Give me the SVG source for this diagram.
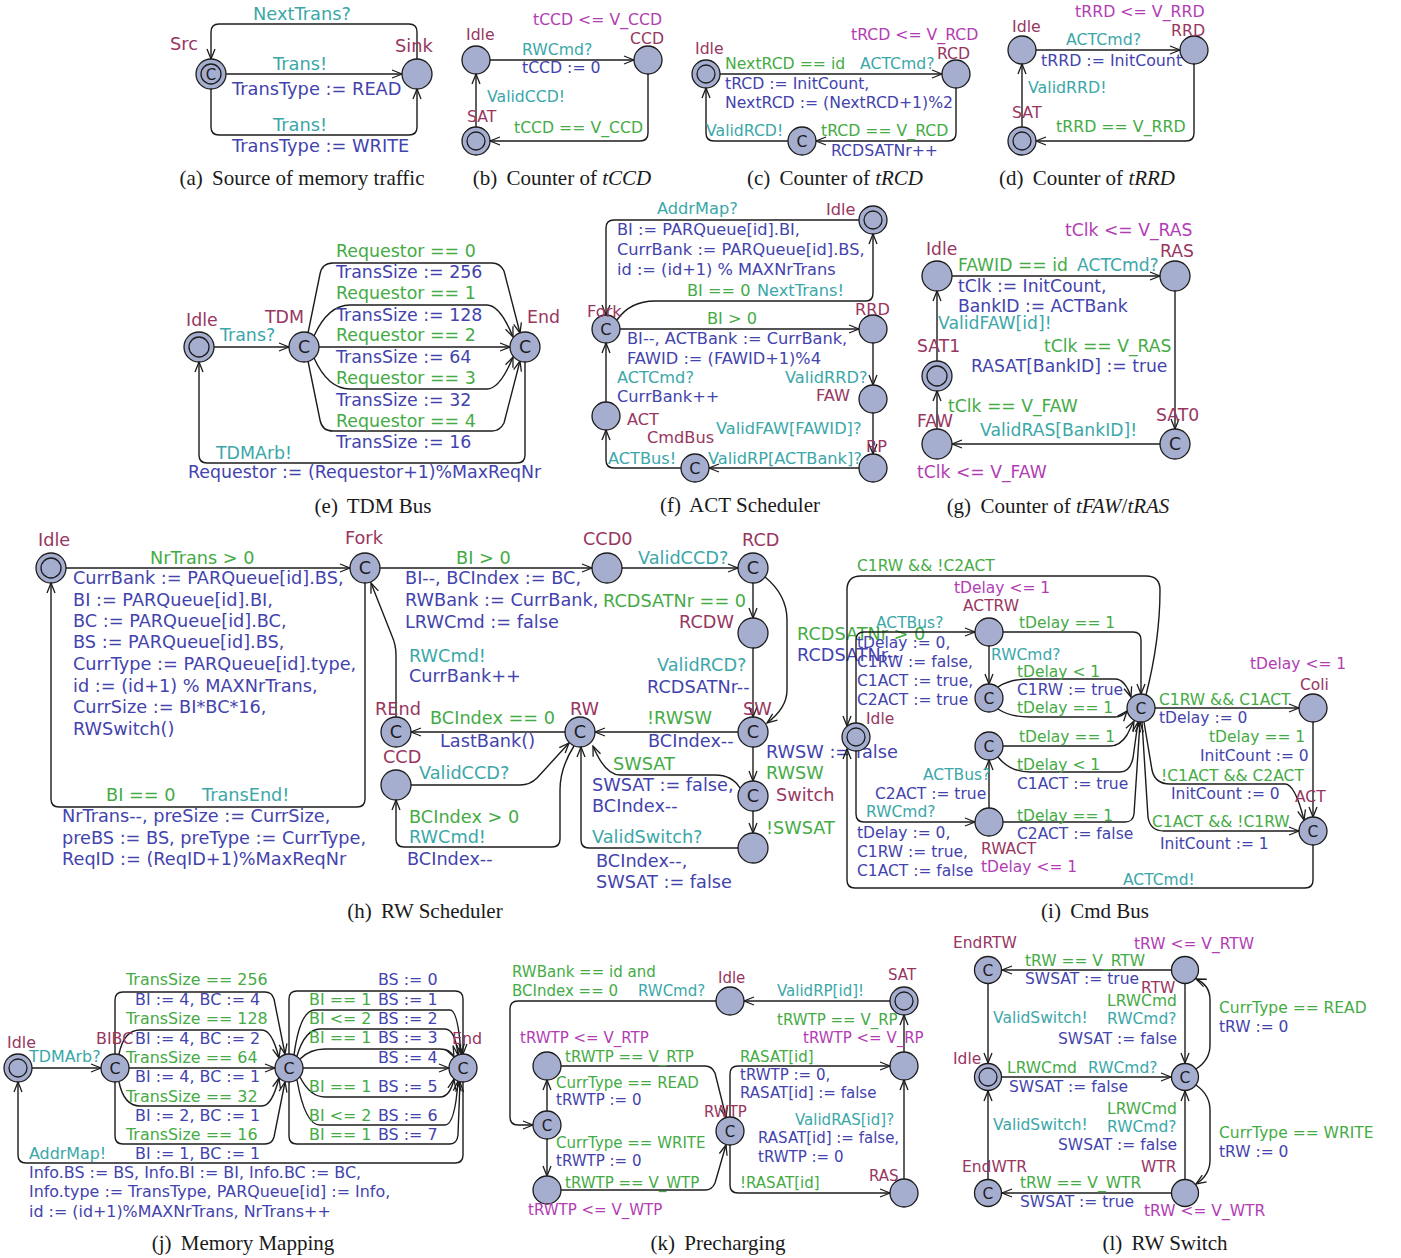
<svg xmlns="http://www.w3.org/2000/svg" width="1401" height="1258" viewBox="0 0 1401 1258">
<defs>
<style>
text{font-family:"DejaVu Sans","Liberation Sans",sans-serif}
.n{fill:#a6aed0;stroke:#1c1c1c;stroke-width:1.3}
.ri{fill:none;stroke:#1c1c1c;stroke-width:1.3}
.e{fill:none;stroke:#1c1c1c;stroke-width:1.4;marker-end:url(#ah)}
.nm{fill:#98365f}
.g{fill:#45ab45}
.s{fill:#3ba7a9}
.u{fill:#4343ad}
.iv{fill:#b23db3}
.c{fill:#1c1c1c;text-anchor:middle}
.cap{font-family:"Liberation Serif","Times New Roman",serif;font-size:21px;fill:#1a1a1a;text-anchor:middle}
</style>
<marker id="ah" markerWidth="12" markerHeight="10" refX="11" refY="5" orient="auto" markerUnits="userSpaceOnUse"><path d="M1,1 L11,5 L1,9" fill="none" stroke="#1c1c1c" stroke-width="1.3"/></marker>
</defs>
<rect width="1401" height="1258" fill="#fff"/>

<!-- (a) -->
<g id="panel-a" font-size="17.8">
<g id="a-edges">
<path class="e" d="M226,74 L402,74"/>
<path class="e" d="M417,59 L417,32 Q417,24 409,24 L219,24 Q211,24 211,32 L211,59"/>
<path class="e" d="M211,89 L211,127 Q211,135 219,135 L409,135 Q417,135 417,127 L417,89"/>
<text class="s" x="253" y="20">NextTrans?</text>
<text class="s" x="273" y="70">Trans!</text>
<text class="u" x="232" y="95">TransType := READ</text>
<text class="s" x="273" y="131">Trans!</text>
<text class="u" x="232" y="152">TransType := WRITE</text>
</g>
<g id="a-src"><circle class="n" cx="211" cy="74" r="15"/><circle class="ri" cx="211" cy="74" r="10"/><text class="c" x="211" y="79.5" font-size="15">C</text><text class="nm" x="170" y="50">Src</text></g>
<g id="a-sink"><circle class="n" cx="417" cy="74" r="15"/><text class="nm" x="395" y="52">Sink</text></g>
<text class="cap" x="302" y="185">(a)<tspan dx="4"> Source of memory traffic</tspan></text>
</g>

<!-- (b) -->
<g id="panel-b" font-size="15.7">
<g id="b-edges">
<path class="e" d="M490,60 L634,60"/>
<path class="e" d="M648,74 L648,133 Q648,141 640,141 L490,141"/>
<path class="e" d="M476,127 L476,74"/>
<text class="s" x="522" y="55">RWCmd?</text>
<text class="u" x="522" y="73">tCCD := 0</text>
<text class="g" x="514" y="133">tCCD == V_CCD</text>
<text class="s" x="487" y="102">ValidCCD!</text>
</g>
<g id="b-idle"><circle class="n" cx="476" cy="60" r="14"/><text class="nm" x="466" y="40">Idle</text></g>
<g id="b-ccd"><circle class="n" cx="648" cy="60" r="14"/><text class="nm" x="630" y="44">CCD</text><text class="iv" x="533" y="25">tCCD &lt;= V_CCD</text></g>
<g id="b-sat"><circle class="n" cx="476" cy="141" r="14"/><circle class="ri" cx="476" cy="141" r="9"/><text class="nm" x="467" y="122">SAT</text></g>
<text class="cap" x="562" y="185">(b)<tspan dx="4"> Counter of <tspan font-style="italic">tCCD</tspan></tspan></text>
</g>

<!-- (c) -->
<g id="panel-c" font-size="15.7">
<g id="c-edges">
<path class="e" d="M720,74 L942,74"/>
<path class="e" d="M956,88 L956,133 Q956,141 948,141 L816,141"/>
<path class="e" d="M788,141 L714,141 Q706,141 706,133 L706,88"/>
<text class="g" x="725" y="69">NextRCD == id</text>
<text class="s" x="860" y="69">ACTCmd?</text>
<text class="u" x="725" y="89">tRCD := InitCount,</text>
<text class="u" x="725" y="108">NextRCD := (NextRCD+1)%2</text>
<text class="g" x="821" y="136">tRCD == V_RCD</text>
<text class="u" x="831" y="156">RCDSATNr++</text>
<text class="s" x="706" y="136">ValidRCD!</text>
</g>
<g id="c-idle"><circle class="n" cx="706" cy="74" r="14"/><circle class="ri" cx="706" cy="74" r="9"/><text class="nm" x="695" y="54">Idle</text></g>
<g id="c-rcd"><circle class="n" cx="956" cy="74" r="14"/><text class="nm" x="937" y="59">RCD</text><text class="iv" x="851" y="40">tRCD &lt;= V_RCD</text></g>
<g id="c-sat"><circle class="n" cx="802" cy="141" r="14"/><text class="c" x="802" y="146.5">C</text></g>
<text class="cap" x="835" y="185">(c)<tspan dx="4"> Counter of <tspan font-style="italic">tRCD</tspan></tspan></text>
</g>

<!-- (d) -->
<g id="panel-d" font-size="15.8">
<g id="d-edges">
<path class="e" d="M1036,50 L1180,50"/>
<path class="e" d="M1194,64 L1194,133 Q1194,141 1186,141 L1036,141"/>
<path class="e" d="M1022,127 L1022,64"/>
<text class="s" x="1066" y="45">ACTCmd?</text>
<text class="u" x="1041" y="66">tRRD := InitCount</text>
<text class="g" x="1056" y="132">tRRD == V_RRD</text>
<text class="s" x="1028" y="93">ValidRRD!</text>
</g>
<g id="d-idle"><circle class="n" cx="1022" cy="50" r="14"/><text class="nm" x="1012" y="32">Idle</text></g>
<g id="d-rrd"><circle class="n" cx="1194" cy="50" r="14"/><text class="nm" x="1171" y="36">RRD</text><text class="iv" x="1075" y="17">tRRD &lt;= V_RRD</text></g>
<g id="d-sat"><circle class="n" cx="1022" cy="141" r="14"/><circle class="ri" cx="1022" cy="141" r="9"/><text class="nm" x="1012" y="118">SAT</text></g>
<text class="cap" x="1087" y="185">(d)<tspan dx="4"> Counter of <tspan font-style="italic">tRRD</tspan></tspan></text>
</g>

<!-- (e) -->
<g id="panel-e" font-size="17.4">
<g id="e-edges">
<path class="e" d="M214,347 L289,347"/>
<path class="e" d="M319,347 L510,347"/>
<path class="e" d="M308,333 L320,274 Q322,263 333,263 L492,263 Q500,263 504,271 L520,333"/>
<path class="e" d="M314,336 Q328,305 350,305 L487,305 Q500,305 513,337"/>
<path class="e" d="M314,358 Q328,389 350,389 L487,389 Q500,389 513,357"/>
<path class="e" d="M308,361 L320,420 Q322,431 333,431 L492,431 Q500,431 504,423 L520,361"/>
<path class="e" d="M525,362 L525,455 Q525,463 517,463 L207,463 Q199,463 199,455 L199,362"/>
<text class="s" x="220" y="341">Trans?</text>
<text class="g" x="336" y="257">Requestor == 0</text>
<text class="u" x="336" y="278">TransSize := 256</text>
<text class="g" x="336" y="299">Requestor == 1</text>
<text class="u" x="336" y="321">TransSize := 128</text>
<text class="g" x="336" y="341">Requestor == 2</text>
<text class="u" x="336" y="363">TransSize := 64</text>
<text class="g" x="336" y="384">Requestor == 3</text>
<text class="u" x="336" y="406">TransSize := 32</text>
<text class="g" x="336" y="427">Requestor == 4</text>
<text class="u" x="336" y="448">TransSize := 16</text>
<text class="s" x="216" y="459">TDMArb!</text>
<text class="u" x="188" y="478">Requestor := (Requestor+1)%MaxReqNr</text>
</g>
<g id="e-idle"><circle class="n" cx="199" cy="347" r="15"/><circle class="ri" cx="199" cy="347" r="10"/><text class="nm" x="186" y="326">Idle</text></g>
<g id="e-tdm"><circle class="n" cx="304" cy="347" r="15"/><text class="c" x="304" y="353">C</text><text class="nm" x="265" y="323">TDM</text></g>
<g id="e-end"><circle class="n" cx="525" cy="347" r="15"/><text class="c" x="525" y="353">C</text><text class="nm" x="527" y="323">End</text></g>
<text class="cap" x="373" y="513">(e)<tspan dx="4"> TDM Bus</tspan></text>
</g>

<!-- (f) -->
<g id="panel-f" font-size="16.2">
<g id="f-edges">
<path class="e" d="M859,220 L614,220 Q606,220 606,228 L606,315"/>
<path class="e" d="M617,320 Q630,301 655,301 L866,301 Q873,301 873,293 L873,234"/>
<path class="e" d="M620,329 L859,329"/>
<path class="e" d="M873,343 L873,385"/>
<path class="e" d="M873,413 L873,454"/>
<path class="e" d="M859,468 L709,468"/>
<path class="e" d="M681,468 L614,468 Q606,468 606,460 L606,430"/>
<path class="e" d="M606,402 L606,343"/>
<text class="s" x="657" y="214">AddrMap?</text>
<text class="u" x="617" y="235">BI := PARQueue[id].BI,</text>
<text class="u" x="617" y="255">CurrBank := PARQueue[id].BS,</text>
<text class="u" x="617" y="275">id := (id+1) % MAXNrTrans</text>
<text class="g" x="687" y="296">BI == 0</text>
<text class="s" x="757" y="296">NextTrans!</text>
<text class="g" x="707" y="324">BI &gt; 0</text>
<text class="u" x="627" y="344">BI--, ACTBank := CurrBank,</text>
<text class="u" x="627" y="364">FAWID := (FAWID+1)%4</text>
<text class="s" x="785" y="383">ValidRRD?</text>
<text class="s" x="716" y="434">ValidFAW[FAWID]?</text>
<text class="s" x="708" y="464">ValidRP[ACTBank]?</text>
<text class="s" x="608" y="464">ACTBus!</text>
<text class="s" x="617" y="383">ACTCmd?</text>
<text class="u" x="617" y="402">CurrBank++</text>
</g>
<g id="f-idle"><circle class="n" cx="873" cy="220" r="14"/><circle class="ri" cx="873" cy="220" r="9"/><text class="nm" x="826" y="215">Idle</text></g>
<g id="f-fork"><circle class="n" cx="606" cy="329" r="14"/><text class="c" x="606" y="335">C</text><text class="nm" x="587" y="317">Fork</text></g>
<g id="f-rrd"><circle class="n" cx="873" cy="329" r="14"/><text class="nm" x="855" y="315">RRD</text></g>
<g id="f-faw"><circle class="n" cx="873" cy="399" r="14"/><text class="nm" x="816" y="401">FAW</text></g>
<g id="f-rp"><circle class="n" cx="873" cy="468" r="14"/><text class="nm" x="866" y="452">RP</text></g>
<g id="f-cmdbus"><circle class="n" cx="695" cy="468" r="14"/><text class="c" x="695" y="474">C</text><text class="nm" x="647" y="443">CmdBus</text></g>
<g id="f-act"><circle class="n" cx="606" cy="416" r="14"/><text class="nm" x="627" y="425">ACT</text></g>
<text class="cap" x="740" y="512">(f)<tspan dx="4"> ACT Scheduler</tspan></text>
</g>

<!-- (g) -->
<g id="panel-g" font-size="17.2">
<g id="g-edges">
<path class="e" d="M952,276 L1160,276"/>
<path class="e" d="M1175,291 L1175,429"/>
<path class="e" d="M1160,444 L952,444"/>
<path class="e" d="M937,429 L937,391"/>
<path class="e" d="M937,361 L937,291"/>
<text class="g" x="958" y="271">FAWID == id</text>
<text class="s" x="1077" y="271">ACTCmd?</text>
<text class="u" x="958" y="292">tClk := InitCount,</text>
<text class="u" x="958" y="312">BankID := ACTBank</text>
<text class="g" x="1044" y="352">tClk == V_RAS</text>
<text class="u" x="971" y="372">RASAT[BankID] := true</text>
<text class="s" x="980" y="436">ValidRAS[BankID]!</text>
<text class="g" x="948" y="412">tClk == V_FAW</text>
<text class="s" x="938" y="329">ValidFAW[id]!</text>
</g>
<g id="g-idle"><circle class="n" cx="937" cy="276" r="15"/><text class="nm" x="926" y="255">Idle</text></g>
<g id="g-ras"><circle class="n" cx="1175" cy="276" r="15"/><text class="nm" x="1160" y="257">RAS</text><text class="iv" x="1065" y="236">tClk &lt;= V_RAS</text></g>
<g id="g-sat1"><circle class="n" cx="937" cy="376" r="15"/><circle class="ri" cx="937" cy="376" r="10"/><text class="nm" x="917" y="352">SAT1</text></g>
<g id="g-faw"><circle class="n" cx="937" cy="444" r="15"/><text class="nm" x="917" y="427">FAW</text><text class="iv" x="917" y="478">tClk &lt;= V_FAW</text></g>
<g id="g-sat0"><circle class="n" cx="1175" cy="444" r="15"/><text class="c" x="1175" y="450">C</text><text class="nm" x="1156" y="421">SAT0</text></g>
<text class="cap" x="1058" y="513">(g)<tspan dx="4"> Counter of <tspan font-style="italic">tFAW</tspan>/<tspan font-style="italic">tRAS</tspan></tspan></text>
</g>

<!-- (h) -->
<g id="panel-h" font-size="17.7">
<g id="h-edges">
<path class="e" d="M66,568 L350,568"/>
<path class="e" d="M365,583 L365,799 Q365,807 357,807 L59,807 Q51,807 51,799 L51,583"/>
<path class="e" d="M380,568 L592,568"/>
<path class="e" d="M622,568 L738,568"/>
<path class="e" d="M753,583 L753,618"/>
<path class="e" d="M753,648 L753,717"/>
<path class="e" d="M765,577 Q787,595 787,620 L787,690 Q787,708 767,723"/>
<path class="e" d="M738,732 L595,732"/>
<path class="e" d="M565,732 L411,732"/>
<path class="e" d="M396,717 L396,655 Q396,645 392,636 L371,583"/>
<path class="e" d="M753,747 L753,781"/>
<path class="e" d="M740,788 Q732,775 715,775 L620,775 Q605,775 593,746"/>
<path class="e" d="M753,811 L753,833"/>
<path class="e" d="M738,848 L589,848 Q581,848 581,840 L581,747"/>
<path class="e" d="M411,785 L520,785 Q530,785 537,778 L569,743"/>
<path class="e" d="M574,746 Q560,768 560,790 L560,839 Q560,847 552,847 L404,847 Q396,847 396,839 L396,800"/>
<text class="g" x="150" y="564">NrTrans &gt; 0</text>
<text class="u" x="73" y="584">CurrBank := PARQueue[id].BS,</text>
<text class="u" x="73" y="606">BI := PARQueue[id].BI,</text>
<text class="u" x="73" y="627">BC := PARQueue[id].BC,</text>
<text class="u" x="73" y="648">BS := PARQueue[id].BS,</text>
<text class="u" x="73" y="670">CurrType := PARQueue[id].type,</text>
<text class="u" x="73" y="692">id := (id+1) % MAXNrTrans,</text>
<text class="u" x="73" y="713">CurrSize := BI*BC*16,</text>
<text class="u" x="73" y="735">RWSwitch()</text>
<text class="g" x="106" y="801">BI == 0</text>
<text class="s" x="202" y="801">TransEnd!</text>
<text class="u" x="62" y="822">NrTrans--, preSize := CurrSize,</text>
<text class="u" x="62" y="844">preBS := BS, preType := CurrType,</text>
<text class="u" x="62" y="865">ReqID := (ReqID+1)%MaxReqNr</text>
<text class="g" x="456" y="564">BI &gt; 0</text>
<text class="u" x="405" y="584">BI--, BCIndex := BC,</text>
<text class="u" x="405" y="606">RWBank := CurrBank,</text>
<text class="u" x="405" y="628">LRWCmd := false</text>
<text class="s" x="638" y="564">ValidCCD?</text>
<text class="g" x="603" y="607">RCDSATNr == 0</text>
<text class="s" x="657" y="671">ValidRCD?</text>
<text class="u" x="647" y="693">RCDSATNr--</text>
<text class="g" x="797" y="640">RCDSATNr &gt; 0</text>
<text class="u" x="797" y="661">RCDSATNr--</text>
<text class="g" x="647" y="724">!RWSW</text>
<text class="u" x="648" y="747">BCIndex--</text>
<text class="g" x="430" y="724">BCIndex == 0</text>
<text class="u" x="440" y="747">LastBank()</text>
<text class="s" x="409" y="662">RWCmd!</text>
<text class="u" x="409" y="682">CurrBank++</text>
<text class="u" x="766" y="758">RWSW := false</text>
<text class="g" x="766" y="779">RWSW</text>
<text class="g" x="613" y="770">SWSAT</text>
<text class="u" x="592" y="791">SWSAT := false,</text>
<text class="u" x="592" y="812">BCIndex--</text>
<text class="g" x="766" y="834">!SWSAT</text>
<text class="s" x="592" y="843">ValidSwitch?</text>
<text class="u" x="596" y="867">BCIndex--,</text>
<text class="u" x="596" y="888">SWSAT := false</text>
<text class="s" x="419" y="779">ValidCCD?</text>
<text class="g" x="409" y="823">BCIndex &gt; 0</text>
<text class="s" x="409" y="843">RWCmd!</text>
<text class="u" x="407" y="865">BCIndex--</text>
</g>
<g id="h-idle"><circle class="n" cx="51" cy="568" r="15"/><circle class="ri" cx="51" cy="568" r="10"/><text class="nm" x="38" y="546">Idle</text></g>
<g id="h-fork"><circle class="n" cx="365" cy="568" r="15"/><text class="c" x="365" y="574">C</text><text class="nm" x="345" y="544">Fork</text></g>
<g id="h-ccd0"><circle class="n" cx="607" cy="568" r="15"/><text class="nm" x="583" y="545">CCD0</text></g>
<g id="h-rcd"><circle class="n" cx="753" cy="568" r="15"/><text class="c" x="753" y="574">C</text><text class="nm" x="742" y="546">RCD</text></g>
<g id="h-rcdw"><circle class="n" cx="753" cy="633" r="15"/><text class="nm" x="679" y="628">RCDW</text></g>
<g id="h-sw"><circle class="n" cx="753" cy="732" r="15"/><text class="c" x="753" y="738">C</text><text class="nm" x="743" y="715">SW</text></g>
<g id="h-switch"><circle class="n" cx="753" cy="796" r="15"/><text class="c" x="753" y="802">C</text><text class="nm" x="776" y="801">Switch</text></g>
<g id="h-wait"><circle class="n" cx="753" cy="848" r="15"/></g>
<g id="h-rw"><circle class="n" cx="580" cy="732" r="15"/><text class="c" x="580" y="738">C</text><text class="nm" x="570" y="715">RW</text></g>
<g id="h-rend"><circle class="n" cx="396" cy="732" r="15"/><text class="c" x="396" y="738">C</text><text class="nm" x="375" y="715">REnd</text></g>
<g id="h-ccd"><circle class="n" cx="396" cy="785" r="15"/><text class="nm" x="383" y="763">CCD</text></g>
<text class="cap" x="425" y="918">(h)<tspan dx="4"> RW Scheduler</tspan></text>
</g>

<!-- (i) -->
<g id="panel-i" font-size="15.5">
<g id="i-edges">
<path class="e" d="M856,723 L856,640 Q856,632 864,632 L975,632"/>
<path class="e" d="M989,646 L989,684"/>
<path class="e" d="M1003,632 L1133,632 Q1141,632 1141,640 L1141,694"/>
<path class="e" d="M998,687 Q1010,679 1030,679 L1115,679 Q1125,679 1131,697"/>
<path class="e" d="M998,709 Q1010,717 1030,717 L1115,717 Q1122,717 1127,711"/>
<path class="e" d="M1003,746 L1110,746 Q1120,746 1127,735 L1134,721"/>
<path class="e" d="M998,757 Q1010,772 1030,772 L1120,772 Q1130,772 1133,758 L1138,722"/>
<path class="e" d="M856,751 L856,814 Q856,822 864,822 L975,822"/>
<path class="e" d="M989,808 L989,760"/>
<path class="e" d="M1003,822 L1125,822 Q1133,822 1134,814 L1140,722"/>
<path class="e" d="M1146,695 Q1160,640 1160,590 Q1160,576 1146,576 L861,576 Q847,576 847,590 L847,726"/>
<path class="e" d="M1155,708 L1299,708"/>
<path class="e" d="M1313,722 L1313,817"/>
<path class="e" d="M1144,722 L1152,770 Q1155,784 1170,784 L1285,784 Q1295,784 1304,820"/>
<path class="e" d="M1142,722 L1148,817 Q1150,831 1164,831 L1299,831"/>
<path class="e" d="M1313,845 L1313,880 Q1313,888 1305,888 L855,888 Q847,888 847,880 L847,749"/>
<text class="s" x="876" y="628">ACTBus?</text>
<text class="u" x="857" y="648">tDelay := 0,</text>
<text class="u" x="857" y="667">C1RW := false,</text>
<text class="u" x="857" y="686">C1ACT := true,</text>
<text class="u" x="857" y="705">C2ACT := true</text>
<text class="s" x="991" y="660">RWCmd?</text>
<text class="g" x="1019" y="628">tDelay == 1</text>
<text class="g" x="1017" y="677">tDelay &lt; 1</text>
<text class="u" x="1017" y="695">C1RW := true</text>
<text class="g" x="1017" y="713">tDelay == 1</text>
<text class="g" x="1019" y="742">tDelay == 1</text>
<text class="g" x="1017" y="770">tDelay &lt; 1</text>
<text class="u" x="1017" y="789">C1ACT := true</text>
<text class="s" x="866" y="817">RWCmd?</text>
<text class="u" x="857" y="838">tDelay := 0,</text>
<text class="u" x="857" y="857">C1RW := true,</text>
<text class="u" x="857" y="876">C1ACT := false</text>
<text class="s" x="923" y="780">ACTBus?</text>
<text class="u" x="875" y="799">C2ACT := true</text>
<text class="g" x="1017" y="821">tDelay == 1</text>
<text class="u" x="1017" y="839">C2ACT := false</text>
<text class="g" x="857" y="571">C1RW &amp;&amp; !C2ACT</text>
<text class="g" x="1159" y="705">C1RW &amp;&amp; C1ACT</text>
<text class="u" x="1159" y="723">tDelay := 0</text>
<text class="g" x="1209" y="742">tDelay == 1</text>
<text class="u" x="1200" y="761">InitCount := 0</text>
<text class="g" x="1161" y="781">!C1ACT &amp;&amp; C2ACT</text>
<text class="u" x="1171" y="799">InitCount := 0</text>
<text class="g" x="1152" y="827">C1ACT &amp;&amp; !C1RW</text>
<text class="u" x="1160" y="849">InitCount := 1</text>
<text class="s" x="1123" y="885">ACTCmd!</text>
</g>
<g id="i-idle"><circle class="n" cx="856" cy="737" r="14"/><circle class="ri" cx="856" cy="737" r="9"/><text class="nm" x="866" y="724">Idle</text></g>
<g id="i-actrw"><circle class="n" cx="989" cy="632" r="14"/><text class="nm" x="963" y="611">ACTRW</text><text class="iv" x="954" y="593">tDelay &lt;= 1</text></g>
<g id="i-c1"><circle class="n" cx="989" cy="698" r="14"/><text class="c" x="989" y="703.5">C</text></g>
<g id="i-c2"><circle class="n" cx="989" cy="746" r="14"/><text class="c" x="989" y="751.5">C</text></g>
<g id="i-rwact"><circle class="n" cx="989" cy="822" r="14"/><text class="nm" x="981" y="854">RWACT</text><text class="iv" x="981" y="872">tDelay &lt;= 1</text></g>
<g id="i-hub"><circle class="n" cx="1141" cy="708" r="14"/><text class="c" x="1141" y="713.5">C</text></g>
<g id="i-coli"><circle class="n" cx="1313" cy="708" r="14"/><text class="nm" x="1300" y="690">Coli</text><text class="iv" x="1250" y="669">tDelay &lt;= 1</text></g>
<g id="i-act"><circle class="n" cx="1313" cy="831" r="14"/><text class="c" x="1313" y="836.5">C</text><text class="nm" x="1295" y="802">ACT</text></g>
<text class="cap" x="1095" y="918">(i)<tspan dx="4"> Cmd Bus</tspan></text>
</g>

<!-- (j) -->
<g id="panel-j" font-size="15.9">
<g id="j-edges">
<path class="e" d="M32,1068 L101,1068"/>
<path class="e" d="M115,1054 L115,1000 Q115,992 123,992 L265,992 Q272,992 274,999 L285,1054"/>
<path class="e" d="M119,1054 Q124,1030 140,1030 L262,1030 Q272,1030 279,1058"/>
<path class="e" d="M129,1068 L275,1068"/>
<path class="e" d="M119,1082 Q124,1106 140,1106 L262,1106 Q272,1106 279,1078"/>
<path class="e" d="M115,1082 L115,1136 Q115,1144 123,1144 L265,1144 Q272,1144 274,1137 L285,1082"/>
<path class="e" d="M289,1054 L289,999 Q289,991 297,991 L455,991 Q463,991 463,999 L463,1054"/>
<path class="e" d="M294,1055 Q300,1010 315,1010 L450,1010 Q458,1010 461,1054"/>
<path class="e" d="M297,1056 Q305,1029 320,1029 L445,1029 Q455,1029 458,1055"/>
<path class="e" d="M300,1059 Q310,1049 325,1049 L440,1049 Q450,1049 454,1057"/>
<path class="e" d="M303,1068 L449,1068"/>
<path class="e" d="M300,1077 Q310,1097 325,1097 L440,1097 Q450,1097 454,1079"/>
<path class="e" d="M297,1080 Q305,1125 320,1125 L445,1125 Q455,1125 458,1081"/>
<path class="e" d="M289,1082 L289,1136 Q289,1144 297,1144 L450,1144 Q457,1144 458,1135 L460,1082"/>
<path class="e" d="M463,1082 L463,1155 Q463,1163 455,1163 L26,1163 Q18,1163 18,1155 L18,1082"/>
<text class="s" x="29" y="1062">TDMArb?</text>
<text class="g" x="126" y="985">TransSize == 256</text>
<text class="u" x="135" y="1005">BI := 4, BC := 4</text>
<text class="g" x="126" y="1024">TransSize == 128</text>
<text class="u" x="135" y="1044">BI := 4, BC := 2</text>
<text class="g" x="126" y="1063">TransSize == 64</text>
<text class="u" x="135" y="1082">BI := 4, BC := 1</text>
<text class="g" x="126" y="1102">TransSize == 32</text>
<text class="u" x="135" y="1121">BI := 2, BC := 1</text>
<text class="g" x="126" y="1140">TransSize == 16</text>
<text class="u" x="135" y="1159">BI := 1, BC := 1</text>
<text class="u" x="378" y="985">BS := 0</text>
<text class="g" x="309" y="1005">BI == 1</text><text class="u" x="378" y="1005">BS := 1</text>
<text class="g" x="309" y="1024">BI &lt;= 2</text><text class="u" x="378" y="1024">BS := 2</text>
<text class="g" x="309" y="1043">BI == 1</text><text class="u" x="378" y="1043">BS := 3</text>
<text class="u" x="378" y="1063">BS := 4</text>
<text class="g" x="309" y="1092">BI == 1</text><text class="u" x="378" y="1092">BS := 5</text>
<text class="g" x="309" y="1121">BI &lt;= 2</text><text class="u" x="378" y="1121">BS := 6</text>
<text class="g" x="309" y="1140">BI == 1</text><text class="u" x="378" y="1140">BS := 7</text>
<text class="s" x="29" y="1159">AddrMap!</text>
<text class="u" x="29" y="1178">Info.BS := BS, Info.BI := BI, Info.BC := BC,</text>
<text class="u" x="29" y="1197">Info.type := TransType, PARQueue[id] := Info,</text>
<text class="u" x="29" y="1217">id := (id+1)%MAXNrTrans, NrTrans++</text>
</g>
<g id="j-idle"><circle class="n" cx="18" cy="1068" r="14"/><circle class="ri" cx="18" cy="1068" r="9"/><text class="nm" x="7" y="1048">Idle</text></g>
<g id="j-bibc"><circle class="n" cx="115" cy="1068" r="14"/><text class="c" x="115" y="1073.5">C</text><text class="nm" x="96" y="1044">BIBC</text></g>
<g id="j-mid"><circle class="n" cx="289" cy="1068" r="14"/><text class="c" x="289" y="1073.5">C</text></g>
<g id="j-end"><circle class="n" cx="463" cy="1068" r="14"/><text class="c" x="463" y="1073.5">C</text><text class="nm" x="452" y="1044">End</text></g>
<text class="cap" x="243" y="1250">(j)<tspan dx="4"> Memory Mapping</tspan></text>
</g>

<!-- (k) -->
<g id="panel-k" font-size="15">
<g id="k-edges">
<path class="e" d="M716,1001 L518,1001 Q510,1001 510,1009 L510,1117 Q510,1125 518,1125 L533,1125"/>
<path class="e" d="M547,1111 L547,1080"/>
<path class="e" d="M547,1139 L547,1176"/>
<path class="e" d="M561,1066 L705,1066 Q712,1066 715,1073 L726,1117"/>
<path class="e" d="M561,1190 L705,1190 Q712,1190 715,1183 L726,1145"/>
<path class="e" d="M730,1117 L730,1074 Q730,1066 738,1066 L890,1066"/>
<path class="e" d="M730,1145 L730,1185 Q730,1193 738,1193 L890,1193"/>
<path class="e" d="M904,1179 L904,1080"/>
<path class="e" d="M904,1052 L904,1015"/>
<path class="e" d="M890,1001 L744,1001"/>
<text class="g" x="512" y="977">RWBank == id and</text>
<text class="g" x="512" y="996">BCIndex == 0</text>
<text class="s" x="638" y="996">RWCmd?</text>
<text class="g" x="556" y="1088">CurrType == READ</text>
<text class="u" x="556" y="1105">tRWTP := 0</text>
<text class="g" x="556" y="1148">CurrType == WRITE</text>
<text class="u" x="556" y="1166">tRWTP := 0</text>
<text class="g" x="565" y="1062">tRWTP == V_RTP</text>
<text class="g" x="565" y="1188">tRWTP == V_WTP</text>
<text class="g" x="740" y="1062">RASAT[id]</text>
<text class="u" x="740" y="1080">tRWTP := 0,</text>
<text class="u" x="740" y="1098">RASAT[id] := false</text>
<text class="g" x="740" y="1188">!RASAT[id]</text>
<text class="s" x="795" y="1125">ValidRAS[id]?</text>
<text class="u" x="758" y="1143">RASAT[id] := false,</text>
<text class="u" x="758" y="1162">tRWTP := 0</text>
<text class="g" x="777" y="1025">tRWTP == V_RP</text>
<text class="s" x="777" y="996">ValidRP[id]!</text>
</g>
<g id="k-idle"><circle class="n" cx="730" cy="1001" r="14"/><text class="nm" x="718" y="983">Idle</text></g>
<g id="k-sat"><circle class="n" cx="904" cy="1001" r="14"/><circle class="ri" cx="904" cy="1001" r="9"/><text class="nm" x="888" y="980">SAT</text></g>
<g id="k-rtp"><circle class="n" cx="547" cy="1066" r="14"/><text class="iv" x="520" y="1043">tRWTP &lt;= V_RTP</text></g>
<g id="k-type"><circle class="n" cx="547" cy="1125" r="14"/><text class="c" x="547" y="1130.5">C</text></g>
<g id="k-wtp"><circle class="n" cx="547" cy="1190" r="14"/><text class="iv" x="528" y="1215">tRWTP &lt;= V_WTP</text></g>
<g id="k-rwtp"><circle class="n" cx="730" cy="1131" r="14"/><text class="c" x="730" y="1136.5">C</text><text class="nm" x="704" y="1117">RWTP</text></g>
<g id="k-rp"><circle class="n" cx="904" cy="1066" r="14"/><text class="iv" x="803" y="1043">tRWTP &lt;= V_RP</text></g>
<g id="k-ras"><circle class="n" cx="904" cy="1193" r="14"/><text class="nm" x="869" y="1181">RAS</text></g>
<text class="cap" x="718" y="1250">(k)<tspan dx="4"> Precharging</tspan></text>
</g>

<!-- (l) -->
<g id="panel-l" font-size="15.5">
<g id="l-edges">
<path class="e" d="M1171,970 L1002,970"/>
<path class="e" d="M988,984 L988,1063"/>
<path class="e" d="M1185,984 L1185,1063"/>
<path class="e" d="M1196,1069 Q1210,1060 1210,1045 L1210,1000 Q1210,985 1196,979"/>
<path class="e" d="M1002,1077 L1171,1077"/>
<path class="e" d="M1185,1179 L1185,1091"/>
<path class="e" d="M1196,1085 Q1210,1095 1210,1110 L1210,1160 Q1210,1175 1196,1184"/>
<path class="e" d="M1171,1193 L1002,1193"/>
<path class="e" d="M988,1179 L988,1091"/>
<text class="g" x="1025" y="966">tRW == V_RTW</text>
<text class="u" x="1025" y="984">SWSAT := true</text>
<text class="s" x="993" y="1023">ValidSwitch!</text>
<text class="g" x="1107" y="1006">LRWCmd</text>
<text class="s" x="1107" y="1024">RWCmd?</text>
<text class="u" x="1058" y="1044">SWSAT := false</text>
<text class="g" x="1219" y="1013">CurrType == READ</text>
<text class="u" x="1219" y="1032">tRW := 0</text>
<text class="g" x="1007" y="1073">LRWCmd</text>
<text class="s" x="1088" y="1073">RWCmd?</text>
<text class="u" x="1009" y="1092">SWSAT := false</text>
<text class="g" x="1107" y="1114">LRWCmd</text>
<text class="s" x="1107" y="1132">RWCmd?</text>
<text class="u" x="1058" y="1150">SWSAT := false</text>
<text class="g" x="1219" y="1138">CurrType == WRITE</text>
<text class="u" x="1219" y="1157">tRW := 0</text>
<text class="g" x="1020" y="1188">tRW == V_WTR</text>
<text class="u" x="1020" y="1207">SWSAT := true</text>
<text class="s" x="993" y="1130">ValidSwitch!</text>
</g>
<g id="l-endrtw"><circle class="n" cx="988" cy="970" r="13.5"/><text class="c" x="988" y="975.5">C</text><text class="nm" x="953" y="948">EndRTW</text></g>
<g id="l-rtw"><circle class="n" cx="1185" cy="970" r="13.5"/><text class="nm" x="1141" y="993">RTW</text><text class="iv" x="1134" y="949">tRW &lt;= V_RTW</text></g>
<g id="l-idle"><circle class="n" cx="988" cy="1077" r="13.5"/><circle class="ri" cx="988" cy="1077" r="9"/><text class="nm" x="953" y="1064">Idle</text></g>
<g id="l-mid"><circle class="n" cx="1185" cy="1077" r="13.5"/><text class="c" x="1185" y="1082.5">C</text></g>
<g id="l-endwtr"><circle class="n" cx="988" cy="1193" r="13.5"/><text class="c" x="988" y="1198.5">C</text><text class="nm" x="962" y="1172">EndWTR</text></g>
<g id="l-wtr"><circle class="n" cx="1185" cy="1193" r="13.5"/><text class="nm" x="1141" y="1172">WTR</text><text class="iv" x="1144" y="1216">tRW &lt;= V_WTR</text></g>
<text class="cap" x="1165" y="1250">(l)<tspan dx="4"> RW Switch</tspan></text>
</g>
</svg>
